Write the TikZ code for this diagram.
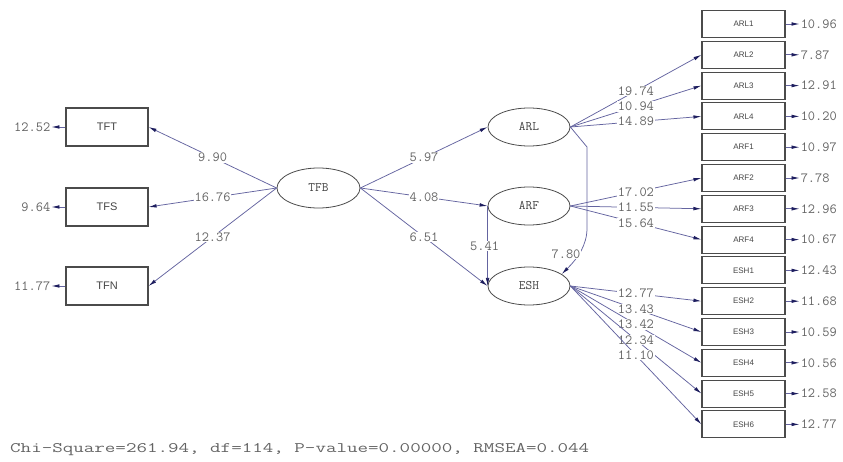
\documentclass[tikz,border=0pt]{standalone}
\usepackage{fontspec}
\usetikzlibrary{shapes.geometric,arrows.meta}
\newfontfamily\lsans{Liberation Sans}
\definecolor{linec}{RGB}{100,100,160}
\definecolor{tipc}{RGB}{30,30,95}
\definecolor{boxc}{RGB}{75,75,75}
\definecolor{txtc}{RGB}{70,70,70}
\definecolor{numc}{RGB}{100,100,100}
\tikzset{
  obs/.style={draw=boxc, line width=1.1pt, rectangle, minimum width=82pt, minimum height=38pt, inner sep=0pt, text=txtc, font=\lsans\fontsize{11}{11}\selectfont},
  obsr/.style={obs, minimum width=83pt, minimum height=27pt, font=\lsans\fontsize{8}{8}\selectfont},
  lat/.style={draw=boxc, line width=0.8pt, ellipse, minimum width=82pt, minimum height=38pt, inner sep=0pt, text=txtc, font=\ttfamily\fontsize{13}{13}\selectfont},
  conn/.style={draw=linec, line width=0.75pt, -{Latex[length=8pt,width=3.6pt,color=tipc]}},
  lab/.style={fill=white, inner sep=0.8pt, text=numc, font=\ttfamily\fontsize{14}{14}\selectfont},
  errv/.style={inner sep=1pt, text=numc, font=\ttfamily\fontsize{14}{14}\selectfont},
}
\begin{document}
\begin{tikzpicture}[x=1pt,y=-1pt]
\fill[white] (0,0) rectangle (843,462);
\useasboundingbox (0,0) rectangle (843,462);
% left observed
\node[obs] (TFT) at (107,127) {TFT};
\node[obs] (TFS) at (107,207) {TFS};
\node[obs] (TFN) at (107,286) {TFN};
% latents
\node[lat, minimum width=83pt, minimum height=40pt] (TFB) at (318.5,188) {TFB};
\node[lat] (ARL) at (529,127) {ARL};
\node[lat] (ARF) at (529,206) {ARF};
\node[lat] (ESH) at (529,286) {ESH};
% right observed
\foreach \nm [count=\i from 0] in {ARL1,ARL2,ARL3,ARL4,ARF1,ARF2,ARF3,ARF4,ESH1,ESH2,ESH3,ESH4,ESH5,ESH6}
  \node[obsr] (\nm) at (743.5,24+30.8*\i) {\nm};
% structural paths
\draw[conn] (TFB.west) -- node[lab] {9.90} (TFT.east);
\draw[conn] (TFB.west) -- node[lab] {16.76} (TFS.east);
\draw[conn] (TFB.west) -- node[lab] {12.37} (TFN.east);
\draw[conn] (TFB.east) -- node[lab] {5.97} (ARL.west);
\draw[conn] (TFB.east) -- node[lab] {4.08} (ARF.west);
\draw[conn] (TFB.east) -- node[lab] {6.51} (ESH.west);
\draw[conn] (ARF.west) -- node[lab, xshift=-3pt] {5.41} (ESH.west);
\coordinate (c1) at (587,147);
\coordinate (c2) at (587,228);
\draw[conn] (ARL.east) -- (c1) -- (c2) .. controls (587,245) and (578,258) .. (ESH.20);
\node[lab] (l780) at (566,254) {7.80};
% measurement paths
\draw[conn] (ARL.east) -- node[lab] {19.74} (ARL2.west);
\draw[conn] (ARL.east) -- node[lab] {10.94} (ARL3.west);
\draw[conn] (ARL.east) -- node[lab] {14.89} (ARL4.west);
\draw[conn] (ARF.east) -- node[lab] {17.02} (ARF2.west);
\draw[conn] (ARF.east) -- node[lab] {11.55} (ARF3.west);
\draw[conn] (ARF.east) -- node[lab] {15.64} (ARF4.west);
\draw[conn] (ESH.east) -- node[lab] {12.77} (ESH2.west);
\draw[conn] (ESH.east) -- node[lab] {13.43} (ESH3.west);
\draw[conn] (ESH.east) -- node[lab] {13.42} (ESH4.west);
\draw[conn] (ESH.east) -- node[lab] {12.34} (ESH5.west);
\draw[conn] (ESH.east) -- node[lab] {11.10} (ESH6.west);
% error variances left
\foreach \nm/\v in {TFT/12.52,TFS/9.64,TFN/11.77}{
  \coordinate (e\nm) at ([xshift=-14pt]\nm.west);
  \draw[conn] (\nm.west) -- (e\nm);
  \node[errv, anchor=east] at (e\nm) {\v};
}
% error variances right
\foreach \nm/\v in {ARL1/10.96,ARL2/7.87,ARL3/12.91,ARL4/10.20,ARF1/10.97,ARF2/7.78,ARF3/12.96,ARF4/10.67,ESH1/12.43,ESH2/11.68,ESH3/10.59,ESH4/10.56,ESH5/12.58,ESH6/12.77}{
  \coordinate (e\nm) at ([xshift=14pt]\nm.east);
  \draw[conn] (\nm.east) -- (e\nm);
  \node[errv, anchor=west] at (e\nm) {\v};
}
% fit statistics
\node[anchor=base west, inner sep=0pt, text=numc, font=\ttfamily\fontsize{14.5}{14.5}\selectfont] (fit) at (10,452)
  {\scalebox{1.41}[1]{Chi-Square=261.94, df=114, P-value=0.00000, RMSEA=0.044}};
\end{tikzpicture}
\end{document}
